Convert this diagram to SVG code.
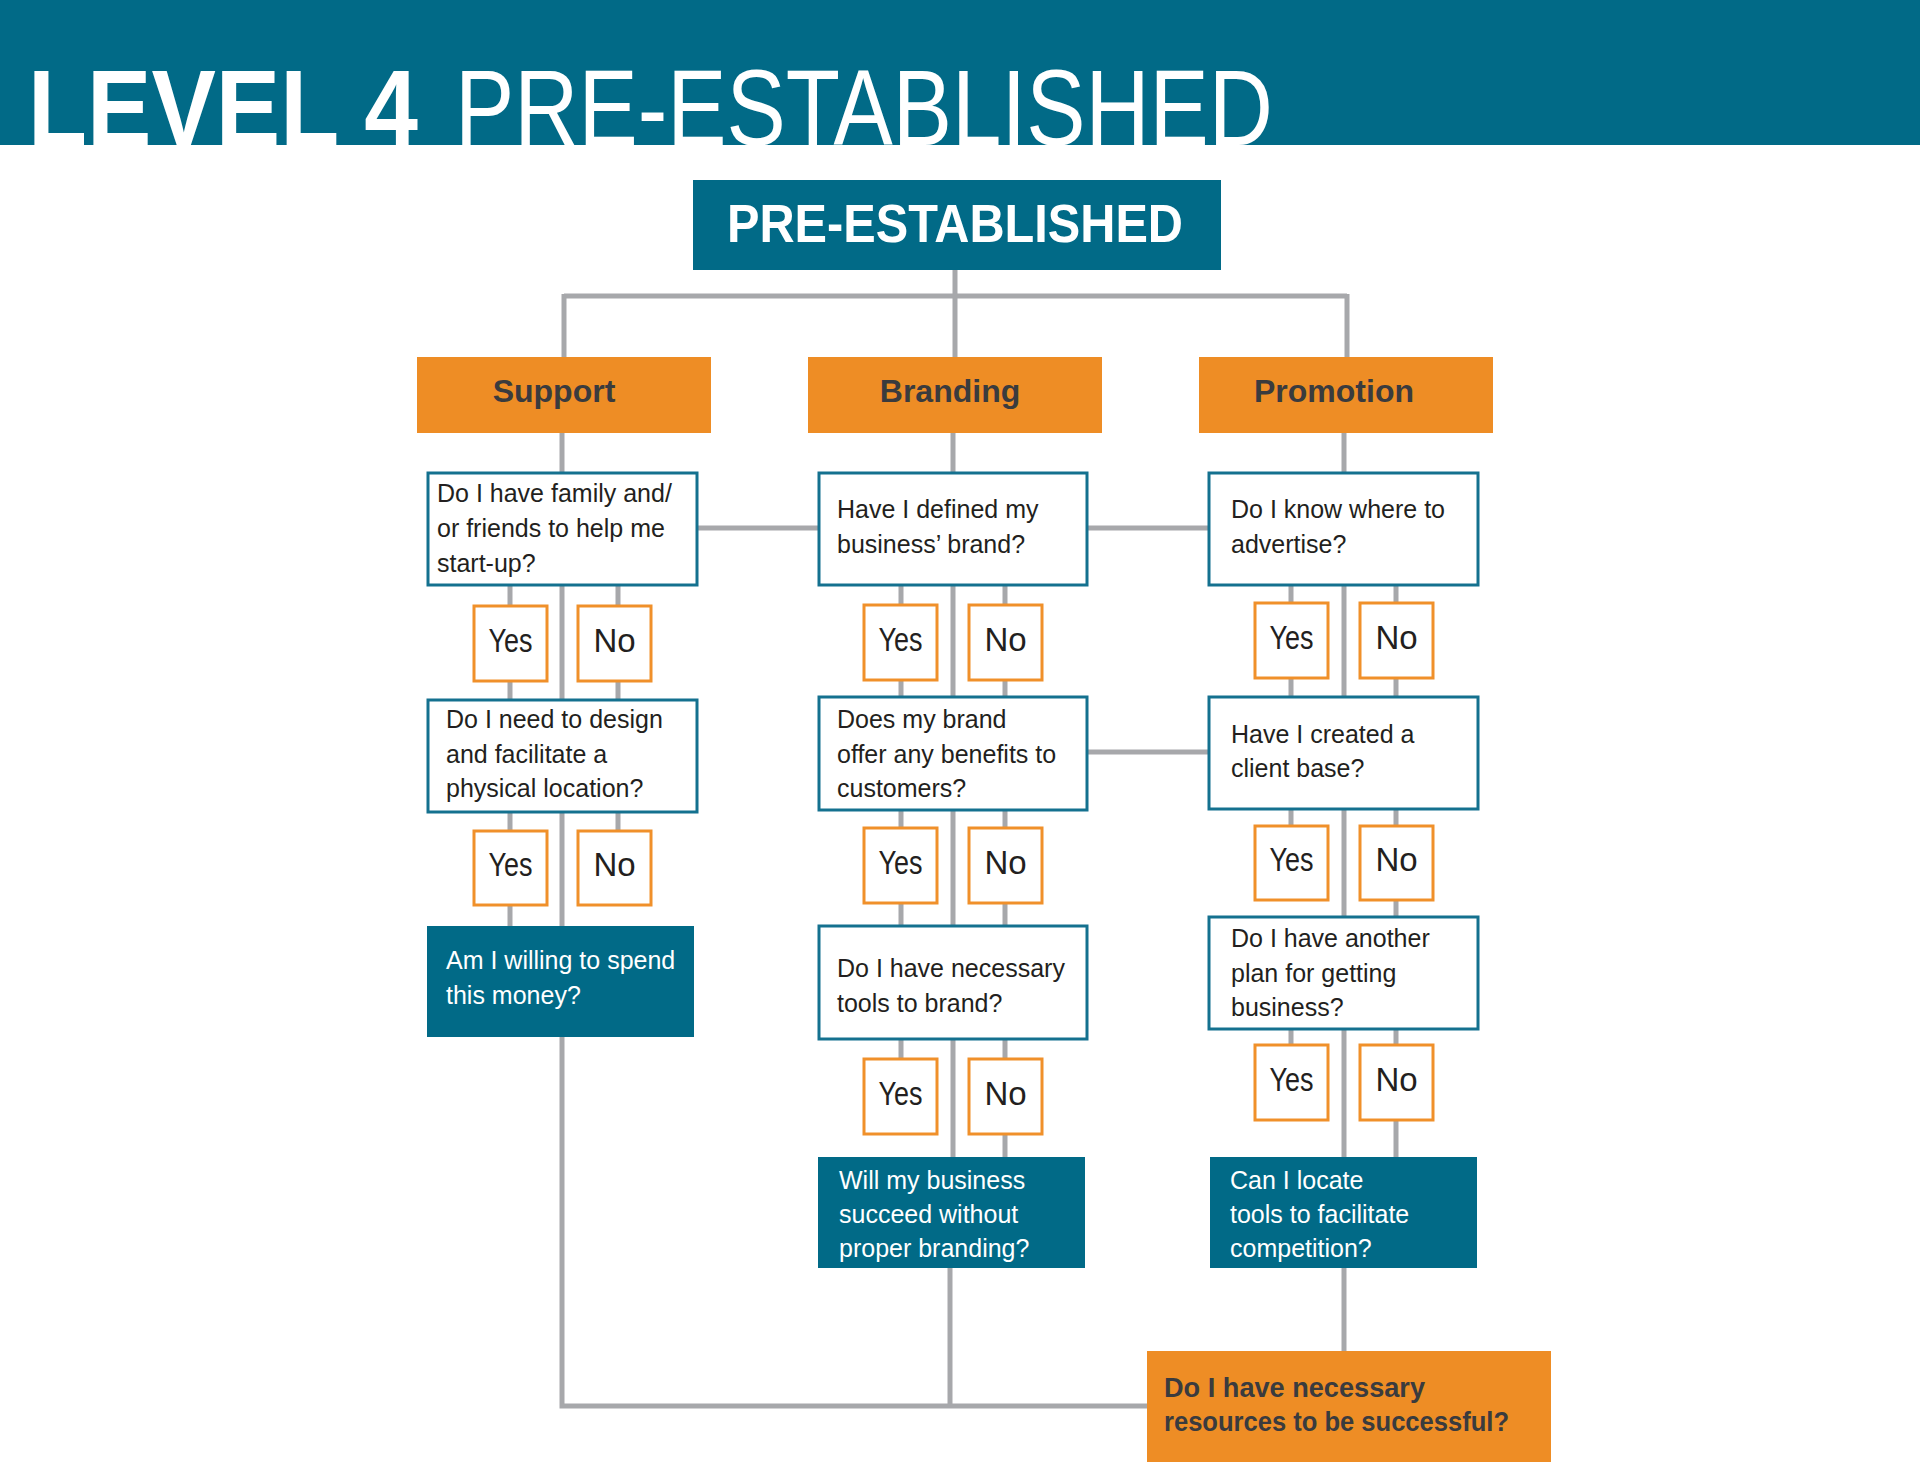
<svg xmlns="http://www.w3.org/2000/svg" width="1920" height="1484" viewBox="0 0 1920 1484">
<style>
.band{fill:#016A87}
.teal{fill:#016A87}
.cat{fill:#EE8D25}
.q{fill:#FFFFFF;stroke:#14718F;stroke-width:3}
.yn{fill:#FFFFFF;stroke:#F0902A;stroke-width:3}
.ln{fill:none;stroke:#A7A8AB;stroke-width:5;stroke-linecap:butt;stroke-linejoin:miter}
.t{font-family:"Liberation Sans",Arial,sans-serif;font-size:25px;fill:#231F20}
.tw{font-family:"Liberation Sans",Arial,sans-serif;font-size:25px;fill:#FFFFFF}
.yt{font-family:"Liberation Sans",Arial,sans-serif;font-size:33px;fill:#231F20;text-anchor:middle}
.ct{font-family:"Liberation Sans",Arial,sans-serif;font-size:32px;font-weight:bold;fill:#3A3B3E;text-anchor:middle}
.ft{font-family:"Liberation Sans",Arial,sans-serif;font-size:27px;font-weight:bold;fill:#3A3B3E}
</style>
<rect x="0" y="0" width="1920" height="1484" fill="#FFFFFF"/>
<g id="header">
<rect class="band" x="0" y="0" width="1920" height="145"/>
<text x="28" y="145" font-family="'Liberation Sans',Arial,sans-serif" font-size="107" font-weight="bold" fill="#FFFFFF" textLength="390" lengthAdjust="spacingAndGlyphs">LEVEL 4</text>
<text x="455" y="145" font-family="'Liberation Sans',Arial,sans-serif" font-size="107" fill="#FFFFFF" textLength="818" lengthAdjust="spacingAndGlyphs">PRE-ESTABLISHED</text>
</g>

<g id="connectors">
<path class="ln" d="M955 270 V296 M564 296 H1347 M564 294 V357 M955 296 V357 M1347 294 V357"/>
<path class="ln" d="M562 433 V473 M953 433 V473 M1344 433 V473"/>
<path class="ln" d="M697 528 H819 M1087 528 H1209 M1087 752 H1209"/>
<path class="ln" d="M562 585 V700 M562 812 V926"/>
<path class="ln" d="M562 1037 V1406 H1147"/>
<path class="ln" d="M510 585 V606 M510 681 V700 M618 585 V606 M618 681 V700"/>
<path class="ln" d="M510 812 V831 M510 905 V926 M618 812 V831"/>
<path class="ln" d="M953 585 V697 M953 810 V926 M953 1039 V1157 M950 1268 V1406"/>
<path class="ln" d="M901 585 V605 M901 680 V697 M1005 585 V605 M1005 680 V697"/>
<path class="ln" d="M901 810 V828 M901 903 V926 M1005 810 V828 M1005 903 V926"/>
<path class="ln" d="M901 1039 V1059 M1005 1039 V1059 M1005 1134 V1157"/>
<path class="ln" d="M1344 585 V697 M1344 809 V917 M1344 1029 V1157 M1344 1268 V1351"/>
<path class="ln" d="M1291 585 V603 M1291 678 V697 M1396 585 V603 M1396 678 V697"/>
<path class="ln" d="M1291 809 V826 M1396 809 V826 M1396 900 V917"/>
<path class="ln" d="M1291 1029 V1045 M1396 1029 V1045 M1396 1120 V1157"/>
</g>

<g id="pre-established">
<rect class="teal" x="693" y="180" width="528" height="90"/>
<text x="727" y="242" font-family="'Liberation Sans',Arial,sans-serif" font-size="54" font-weight="bold" fill="#FFFFFF" textLength="456" lengthAdjust="spacingAndGlyphs">PRE-ESTABLISHED</text>
</g>

<g id="support">
<rect class="cat" x="417" y="357" width="294" height="76"/>
<text class="ct" x="554" y="402">Support</text>
</g>
<g id="branding">
<rect class="cat" x="808" y="357" width="294" height="76"/>
<text class="ct" x="950" y="402">Branding</text>
</g>
<g id="promotion">
<rect class="cat" x="1199" y="357" width="294" height="76"/>
<text class="ct" x="1334" y="402">Promotion</text>
</g>

<g id="s-q1">
<rect class="q" x="428" y="473" width="269" height="112"/>
<text class="t" x="437" y="502">Do I have family and/</text>
<text class="t" x="437" y="537">or friends to help me</text>
<text class="t" x="437" y="572">start-up?</text>
</g>
<g id="s-yes1"><rect class="yn" x="474" y="606" width="73" height="75"/><text class="yt" x="510.5" y="652" textLength="44" lengthAdjust="spacingAndGlyphs">Yes</text></g>
<g id="s-no1"><rect class="yn" x="578" y="606" width="73" height="75"/><text class="yt" x="614.5" y="652">No</text></g>
<g id="s-q2">
<rect class="q" x="428" y="700" width="269" height="112"/>
<text class="t" x="446" y="728">Do I need to design</text>
<text class="t" x="446" y="763">and facilitate a</text>
<text class="t" x="446" y="797">physical location?</text>
</g>
<g id="s-yes2"><rect class="yn" x="474" y="831" width="73" height="74"/><text class="yt" x="510.5" y="876" textLength="44" lengthAdjust="spacingAndGlyphs">Yes</text></g>
<g id="s-no2"><rect class="yn" x="578" y="831" width="73" height="74"/><text class="yt" x="614.5" y="876">No</text></g>
<g id="s-q3">
<rect class="teal" x="427" y="926" width="267" height="111"/>
<text class="tw" x="446" y="969">Am I willing to spend</text>
<text class="tw" x="446" y="1004">this money?</text>
</g>

<g id="b-q1">
<rect class="q" x="819" y="473" width="268" height="112"/>
<text class="t" x="837" y="518">Have I defined my</text>
<text class="t" x="837" y="553">business’ brand?</text>
</g>
<g id="b-yes1"><rect class="yn" x="864" y="605" width="73" height="75"/><text class="yt" x="900.5" y="651" textLength="44" lengthAdjust="spacingAndGlyphs">Yes</text></g>
<g id="b-no1"><rect class="yn" x="969" y="605" width="73" height="75"/><text class="yt" x="1005.5" y="651">No</text></g>
<g id="b-q2">
<rect class="q" x="819" y="697" width="268" height="113"/>
<text class="t" x="837" y="728">Does my brand</text>
<text class="t" x="837" y="763">offer any benefits to</text>
<text class="t" x="837" y="797">customers?</text>
</g>
<g id="b-yes2"><rect class="yn" x="864" y="828" width="73" height="75"/><text class="yt" x="900.5" y="874" textLength="44" lengthAdjust="spacingAndGlyphs">Yes</text></g>
<g id="b-no2"><rect class="yn" x="969" y="828" width="73" height="75"/><text class="yt" x="1005.5" y="874">No</text></g>
<g id="b-q3">
<rect class="q" x="819" y="926" width="268" height="113"/>
<text class="t" x="837" y="977">Do I have necessary</text>
<text class="t" x="837" y="1012">tools to brand?</text>
</g>
<g id="b-yes3"><rect class="yn" x="864" y="1059" width="73" height="75"/><text class="yt" x="900.5" y="1105" textLength="44" lengthAdjust="spacingAndGlyphs">Yes</text></g>
<g id="b-no3"><rect class="yn" x="969" y="1059" width="73" height="75"/><text class="yt" x="1005.5" y="1105">No</text></g>
<g id="b-q4">
<rect class="teal" x="818" y="1157" width="267" height="111"/>
<text class="tw" x="839" y="1189">Will my business</text>
<text class="tw" x="839" y="1223">succeed without</text>
<text class="tw" x="839" y="1257">proper branding?</text>
</g>

<g id="p-q1">
<rect class="q" x="1209" y="473" width="269" height="112"/>
<text class="t" x="1231" y="518">Do I know where to</text>
<text class="t" x="1231" y="553">advertise?</text>
</g>
<g id="p-yes1"><rect class="yn" x="1255" y="603" width="73" height="75"/><text class="yt" x="1291.5" y="649" textLength="44" lengthAdjust="spacingAndGlyphs">Yes</text></g>
<g id="p-no1"><rect class="yn" x="1360" y="603" width="73" height="75"/><text class="yt" x="1396.5" y="649">No</text></g>
<g id="p-q2">
<rect class="q" x="1209" y="697" width="269" height="112"/>
<text class="t" x="1231" y="743">Have I created a</text>
<text class="t" x="1231" y="777">client base?</text>
</g>
<g id="p-yes2"><rect class="yn" x="1255" y="826" width="73" height="74"/><text class="yt" x="1291.5" y="871" textLength="44" lengthAdjust="spacingAndGlyphs">Yes</text></g>
<g id="p-no2"><rect class="yn" x="1360" y="826" width="73" height="74"/><text class="yt" x="1396.5" y="871">No</text></g>
<g id="p-q3">
<rect class="q" x="1209" y="917" width="269" height="112"/>
<text class="t" x="1231" y="947">Do I have another</text>
<text class="t" x="1231" y="982">plan for getting</text>
<text class="t" x="1231" y="1016">business?</text>
</g>
<g id="p-yes3"><rect class="yn" x="1255" y="1045" width="73" height="75"/><text class="yt" x="1291.5" y="1091" textLength="44" lengthAdjust="spacingAndGlyphs">Yes</text></g>
<g id="p-no3"><rect class="yn" x="1360" y="1045" width="73" height="75"/><text class="yt" x="1396.5" y="1091">No</text></g>
<g id="p-q4">
<rect class="teal" x="1210" y="1157" width="267" height="111"/>
<text class="tw" x="1230" y="1189">Can I locate</text>
<text class="tw" x="1230" y="1223">tools to facilitate</text>
<text class="tw" x="1230" y="1257">competition?</text>
</g>

<g id="final">
<rect class="cat" x="1147" y="1351" width="404" height="111"/>
<text class="ft" x="1164" y="1397" textLength="261" lengthAdjust="spacingAndGlyphs">Do I have necessary</text>
<text class="ft" x="1164" y="1431" textLength="345" lengthAdjust="spacingAndGlyphs">resources to be successful?</text>
</g>
</svg>
